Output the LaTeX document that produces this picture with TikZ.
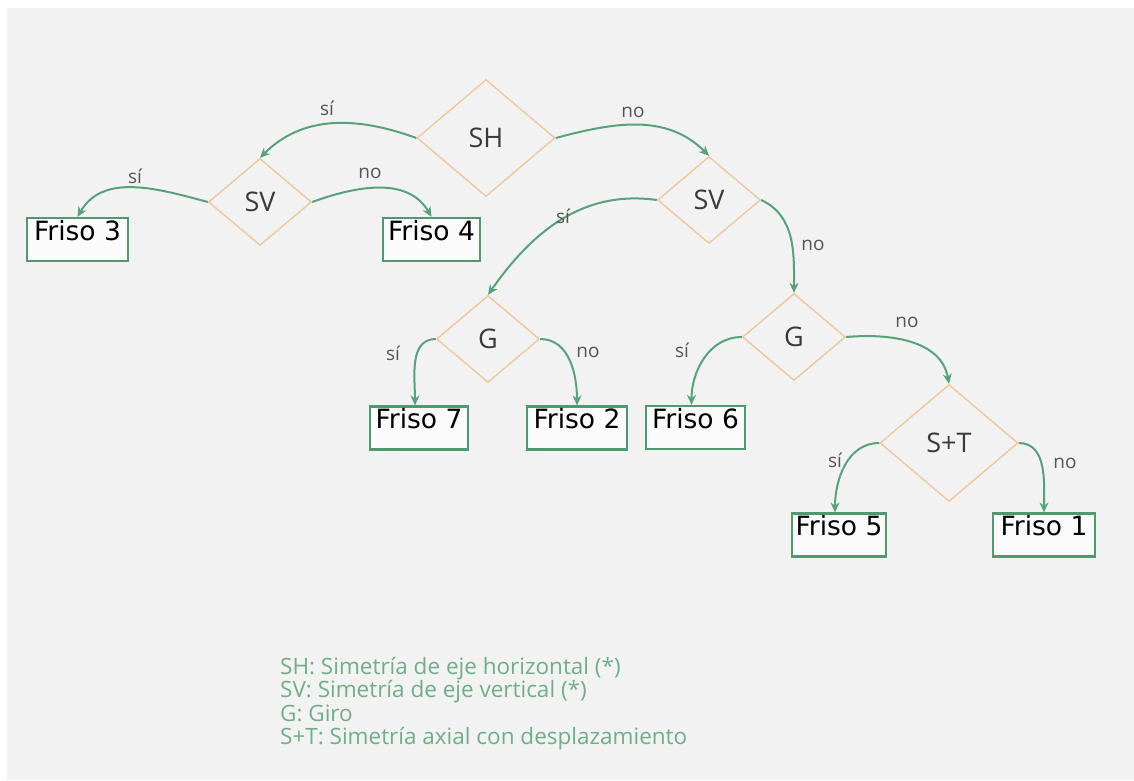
\documentclass[tikz,border=0pt]{standalone}
\usepackage{fontspec}
\setmainfont{Open Sans}
\newfontfamily\boxfont{DejaVu Sans}
\usetikzlibrary{shapes.geometric,arrows.meta}
\definecolor{pagebg}{HTML}{F2F2F2}
\definecolor{flowgreen}{HTML}{58A27A}
\definecolor{boxgreen}{HTML}{4E9A6C}
\definecolor{diamondedge}{HTML}{EFC79B}
\definecolor{labelgray}{HTML}{3A3A3A}
\definecolor{answergray}{HTML}{555555}
\definecolor{legendgreen}{HTML}{6FAE88}
\begin{document}
\begin{tikzpicture}[x=1pt,y=-1pt,
  test/.style={diamond, draw=diamondedge, line width=1.4pt, inner sep=0pt,
    font=\fontsize{27}{30}\selectfont, text=labelgray},
  bigtest/.style={test, minimum width=138pt, minimum height=117pt},
  smalltest/.style={test, minimum width=103pt, minimum height=87pt},
  result/.style={draw=boxgreen, line width=2.2pt, fill=white!70!pagebg,
    font=\boxfont\fontsize{26.5}{29}\selectfont, text=black,
    inner xsep=0pt, inner ysep=0pt, text height=22pt, text depth=21pt},
  branch/.style={draw=flowgreen, line width=2pt, -{Stealth[length=10pt,width=9pt]}},
  answer/.style={font=\fontsize{19}{21}\selectfont, text=answergray},
  legendline/.style={anchor=base west, inner sep=0pt,
    font=\fontsize{22.5}{24}\selectfont, text=legendgreen}
]
% page and paper background
\fill[white] (0,0) rectangle (1134,780);
\fill[pagebg] (7,8) rectangle (1134,780);
\useasboundingbox (0,0) rectangle (1134,780);

% decision diamonds
\node[bigtest]   (sh)  at (486,138) {SH};
\node[smalltest] (svl) at (260,202) {SV};
\node[smalltest] (svr) at (709,200) {SV};
\node[smalltest] (gl)  at (488,339) {G};
\node[smalltest] (gr)  at (794,337) {G};
\node[bigtest]   (st)  at (949,443) {S+T};

% resulting friezes
\node[result, minimum width=101pt] (f3) at (77.5,239.5) {Friso 3};
\node[result, minimum width=97pt]  (f4) at (431.5,239.5) {Friso 4};
\node[result, minimum width=98pt]  (f7) at (419,428) {Friso 7};
\node[result, minimum width=100pt] (f2) at (577,428) {Friso 2};
\node[result, minimum width=99pt]  (f6) at (695.5,427.5) {Friso 6};
\node[result, minimum width=94pt]  (f5) at (839,535) {Friso 5};
\node[result, minimum width=102pt] (f1) at (1044,535) {Friso 1};

% branches
\draw[branch] (sh.west)  to[out=160,in=45]  (svl.north);
\draw[branch] (sh.east)  to[out=15,in=135]  (svr.north);
\draw[branch] (svl.west) to[out=165,in=60]  (f3.north);
\draw[branch] (svl.east) to[out=20,in=120]  (f4.north);
\draw[branch] (svr.west) to[out=172,in=55]  (gl.north);
\draw[branch] (svr.east) to[out=-25,in=90]  (gr.north);
\draw[branch] (gl.west)  to[out=180,in=90]  ([xshift=-4pt]f7.north);
\draw[branch] (gl.east)  to[out=0,in=90]    (f2.north);
\draw[branch] (gr.west)  to[out=180,in=90]  ([xshift=-4pt]f6.north);
\draw[branch] (gr.east)  to[out=5,in=100]   (st.north);
\draw[branch] (st.west)  to[out=180,in=90]  ([xshift=-4pt]f5.north);
\draw[branch] (st.east)  to[out=0,in=90]    (f1.north);

% branch answers
\node[answer] (a1)  at (327,108) {sí};
\node[answer] (a2)  at (633,112) {no};
\node[answer] (a3)  at (135,176) {sí};
\node[answer] (a4)  at (370,173) {no};
\node[answer] (a5)  at (563,216) {sí};
\node[answer] (a6)  at (813,245) {no};
\node[answer] (a7)  at (393,353) {sí};
\node[answer] (a8)  at (588,352) {no};
\node[answer] (a9)  at (682,350) {sí};
\node[answer] (a10) at (907,322) {no};
\node[answer] (a11) at (835,460) {sí};
\node[answer] (a12) at (1065,463) {no};

% key
\node[legendline] (k1) at (280,674) {SH: Simetría de eje horizontal (*)};
\node[legendline] (k2) at (280,697.5) {SV: Simetría de eje vertical (*)};
\node[legendline] (k3) at (280,721) {G: Giro};
\node[legendline] (k4) at (280,744.5) {S+T: Simetría axial con desplazamiento};
\end{tikzpicture}
\end{document}
